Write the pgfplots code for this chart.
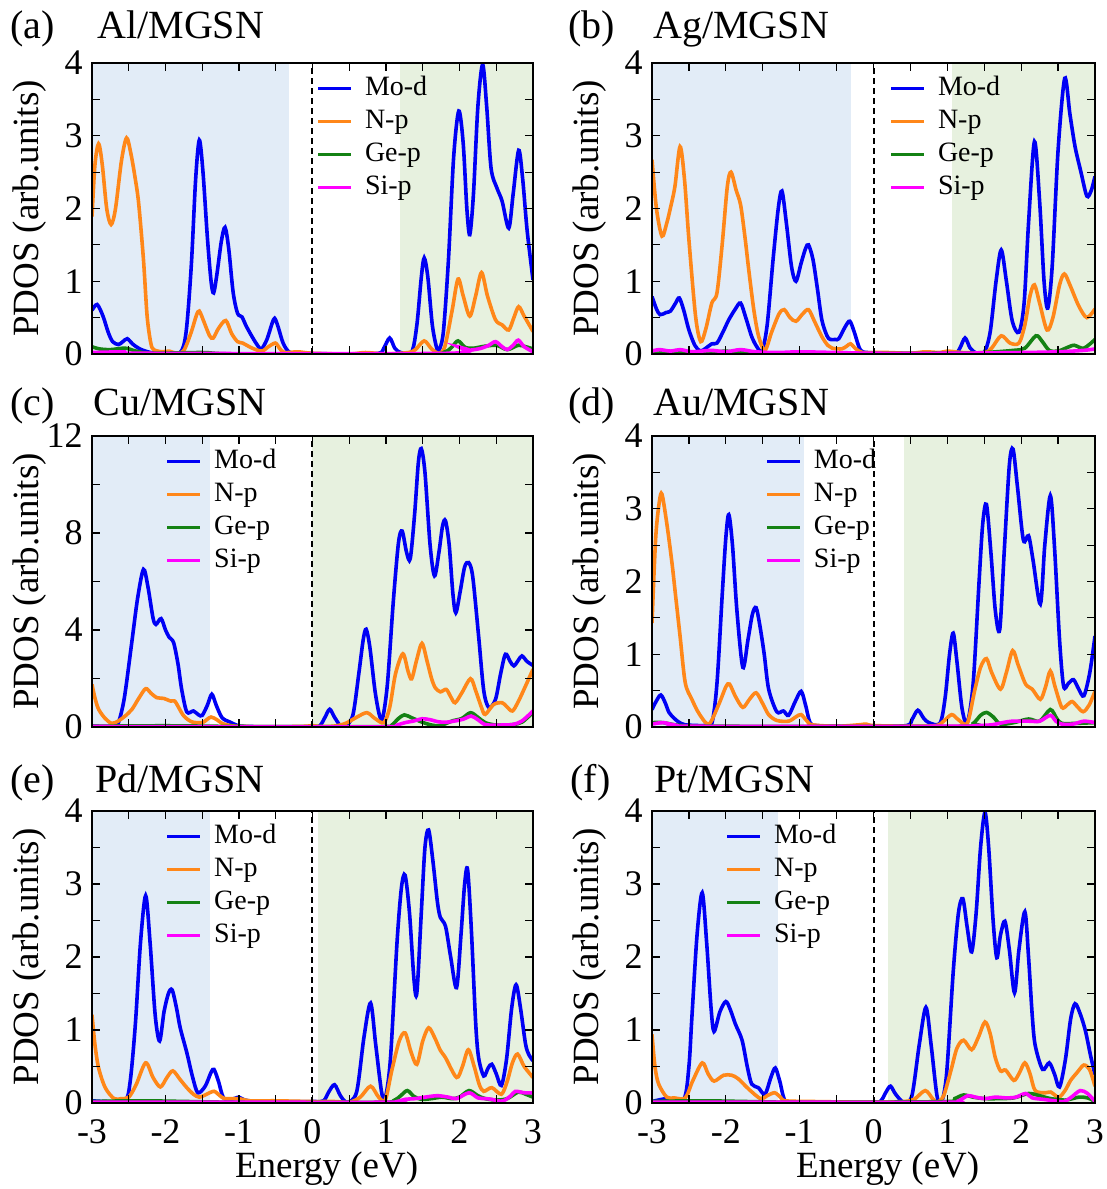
\documentclass[border=0pt]{standalone}
\usepackage{fontspec}
\setmainfont{Liberation Serif}
\usepackage{pgfplots}
\pgfplotsset{compat=1.18}

\definecolor{cMo}{RGB}{0,0,245}
\definecolor{cN}{RGB}{255,135,25}
\definecolor{cGe}{RGB}{20,130,20}
\definecolor{cSi}{RGB}{255,0,255}
\definecolor{bgB}{RGB}{226,236,247}
\definecolor{bgG}{RGB}{231,241,223}

\pgfplotsset{
  pdos/.style={
    scale only axis, width=220.5pt, height=145.5pt, anchor=south west,
    xmin=-3, xmax=3, ymin=0, ymax=4,
    xtick={-3,...,3}, xticklabels={}, minor x tick num=1,
    ytick={0,1,2,3,4}, minor y tick num=1,
    tick align=inside, major tick length=4pt, minor tick length=4pt,
    every tick/.style={black, line width=0.6pt},
    axis line style={line width=1pt},
    axis on top,
    tick label style={font=\fontsize{18}{21}\selectfont},
    xticklabel style={inner sep=0pt, yshift=-8pt},
    yticklabel style={inner sep=0pt, xshift=-4.5pt},
    /pgf/number format/assume math mode=true,
    ylabel={PDOS (arb.units)},
    every axis y label/.style={at={(rel axis cs:-0.1406,0.5)}, rotate=90, anchor=center,
      inner sep=0pt, font=\fontsize{18.5}{22}\selectfont},
    every axis x label/.style={at={(rel axis cs:0.532,-0.226)}, anchor=center,
      inner sep=0pt, font=\fontsize{18.5}{22}\selectfont},
    every axis plot/.append style={line width=1.8pt, smooth, tension=0.5},
    legend cell align=left,
    legend style={draw=none, fill=none, anchor=north west, inner sep=0pt, row sep=0pt,
      font=\fontsize{14}{16}\selectfont,
      nodes={inner sep=1.5pt, text height=10pt, text depth=3.5pt},
      /tikz/every odd column/.append style={column sep=4.5pt}},
    legend image code/.code={\draw[##1] (0pt,0pt) -- (16.5pt,0pt);},
  },
  bottomrow/.style={xticklabels={-3,-2,-1,0,1,2,3}, xlabel={Energy (eV)}},
  fermi/.style={black, line width=1pt, dash pattern=on 3pt off 2pt, forget plot, sharp plot},
}

\begin{document}
\begin{tikzpicture}
\useasboundingbox (0,0) rectangle (553.5pt,594.5pt);

% (a) Al/MGSN
\begin{axis}[pdos, at={(46pt,417.5pt)}, legend style={at={(0.508,0.97)}}]
\fill[bgB] (axis cs:-3,0) rectangle (axis cs:-0.32,4);
\fill[bgG] (axis cs:1.19,0) rectangle (axis cs:3,4);
\addplot[cMo] coordinates {(-3,0.60)(-2.93,0.68)(-2.85,0.52)(-2.78,0.3)(-2.72,0.17)(-2.64,0.13)(-2.58,0.17)(-2.52,0.21)(-2.45,0.14)(-2.35,0.07)(-2.2,0.02)(-2.0,0.01)(-1.8,0.02)(-1.72,0.3)(-1.65,1.2)(-1.59,2.4)(-1.54,2.94)(-1.49,2.5)(-1.43,1.6)(-1.38,1.0)(-1.345,0.84)(-1.3,1.1)(-1.24,1.55)(-1.19,1.74)(-1.14,1.45)(-1.08,0.85)(-1.02,0.56)(-0.96,0.51)(-0.9,0.38)(-0.8,0.2)(-0.72,0.08)(-0.69,0.07)(-0.62,0.2)(-0.55,0.42)(-0.515,0.49)(-0.47,0.38)(-0.4,0.15)(-0.32,0.03)(-0.2,0.01)(0.5,0.0)(0.9,0.01)(0.97,0.08)(1.05,0.22)(1.12,0.08)(1.2,0.02)(1.35,0.03)(1.42,0.4)(1.48,1.05)(1.52,1.32)(1.57,1.05)(1.63,0.4)(1.69,0.08)(1.72,0.05)(1.78,0.3)(1.85,1.3)(1.92,2.7)(1.99,3.34)(2.05,2.9)(2.1,2.0)(2.14,1.64)(2.19,2.2)(2.25,3.4)(2.315,3.98)(2.37,3.4)(2.43,2.55)(2.51,2.28)(2.58,2.1)(2.67,1.73)(2.73,2.2)(2.805,2.8)(2.86,2.4)(2.92,1.7)(3,1.02)};
\addplot[cN] coordinates {(-3,1.89)(-2.96,2.6)(-2.91,2.89)(-2.86,2.6)(-2.8,2.0)(-2.74,1.78)(-2.68,2.0)(-2.6,2.65)(-2.53,2.97)(-2.47,2.75)(-2.41,2.4)(-2.365,2.07)(-2.3,1.3)(-2.25,0.52)(-2.2,0.15)(-2.16,0.06)(-2.05,0.03)(-1.95,0.04)(-1.85,0.01)(-1.75,0.05)(-1.65,0.3)(-1.58,0.53)(-1.54,0.59)(-1.48,0.45)(-1.4,0.25)(-1.35,0.22)(-1.28,0.35)(-1.18,0.46)(-1.1,0.28)(-1.02,0.17)(-0.95,0.15)(-0.82,0.08)(-0.69,0.04)(-0.6,0.1)(-0.505,0.15)(-0.45,0.08)(-0.38,0.02)(-0.2,0.03)(0,0.01)(0.5,0.0)(0.72,0.02)(1.0,0.0)(1.3,0.02)(1.4,0.06)(1.52,0.18)(1.62,0.07)(1.72,0.01)(1.8,0.1)(1.9,0.6)(1.98,1.03)(2.05,0.8)(2.14,0.52)(2.22,0.8)(2.30,1.12)(2.38,0.8)(2.49,0.47)(2.58,0.4)(2.67,0.33)(2.74,0.5)(2.805,0.65)(2.88,0.52)(3,0.31)};
\addplot[cGe] coordinates {(-3,0.1)(-2.9,0.07)(-2.75,0.06)(-2.55,0.08)(-2.4,0.04)(-2.2,0.01)(-1.5,0.02)(-1.0,0.0)(1.5,0.0)(1.8,0.03)(1.9,0.1)(1.98,0.18)(2.08,0.09)(2.2,0.08)(2.3,0.1)(2.5,0.12)(2.65,0.06)(2.8,0.12)(2.9,0.1)(3,0.07)};
\addplot[cSi] coordinates {(-3,0.02)(-2.55,0.03)(-2.3,0.01)(1.85,0.01)(1.98,0.1)(2.08,0.05)(2.2,0.06)(2.3,0.08)(2.4,0.12)(2.49,0.17)(2.58,0.1)(2.65,0.06)(2.73,0.12)(2.8,0.19)(2.88,0.1)(3,0.03)};
\addplot[fermi] coordinates {(0,0)(0,4)};
\legend{Mo-d,N-p,Ge-p,Si-p}
\end{axis}

% (b) Ag/MGSN
\begin{axis}[pdos, at={(326pt,417.5pt)}, width=221.5pt, legend style={at={(0.535,0.97)}}]
\fill[bgB] (axis cs:-3,0) rectangle (axis cs:-0.30,4);
\fill[bgG] (axis cs:1.06,0) rectangle (axis cs:3,4);
\addplot[cMo] coordinates {(-3,0.79)(-2.94,0.62)(-2.89,0.54)(-2.81,0.57)(-2.75,0.59)(-2.68,0.7)(-2.63,0.77)(-2.57,0.6)(-2.5,0.33)(-2.42,0.12)(-2.345,0.04)(-2.27,0.08)(-2.19,0.14)(-2.12,0.15)(-2.04,0.3)(-1.96,0.47)(-1.87,0.62)(-1.80,0.70)(-1.73,0.5)(-1.65,0.24)(-1.58,0.1)(-1.51,0.04)(-1.44,0.4)(-1.36,1.3)(-1.29,2.0)(-1.24,2.24)(-1.18,1.8)(-1.11,1.2)(-1.05,1.0)(-0.98,1.25)(-0.92,1.45)(-0.88,1.50)(-0.82,1.3)(-0.76,0.9)(-0.70,0.47)(-0.63,0.25)(-0.585,0.2)(-0.52,0.2)(-0.47,0.21)(-0.38,0.38)(-0.32,0.45)(-0.26,0.3)(-0.18,0.06)(-0.08,0.02)(0.3,0.01)(0.8,0.01)(1.1,0.01)(1.17,0.08)(1.24,0.22)(1.31,0.08)(1.4,0.01)(1.5,0.02)(1.58,0.3)(1.66,1.0)(1.73,1.43)(1.8,1.0)(1.88,0.45)(1.97,0.30)(2.04,0.7)(2.1,1.8)(2.18,2.92)(2.25,2.1)(2.31,1.0)(2.36,0.63)(2.42,1.2)(2.5,2.8)(2.59,3.79)(2.66,3.3)(2.73,2.85)(2.81,2.5)(2.89,2.17)(2.95,2.25)(3,2.44)};
\addplot[cN] coordinates {(-3,2.67)(-2.94,2.0)(-2.865,1.62)(-2.8,1.8)(-2.75,2.01)(-2.69,2.3)(-2.62,2.85)(-2.56,2.4)(-2.5,1.57)(-2.41,0.52)(-2.34,0.17)(-2.27,0.35)(-2.19,0.70)(-2.12,0.84)(-2.05,1.5)(-1.98,2.3)(-1.93,2.50)(-1.86,2.25)(-1.80,2.05)(-1.74,1.6)(-1.69,1.16)(-1.62,0.6)(-1.555,0.24)(-1.47,0.05)(-1.38,0.3)(-1.28,0.55)(-1.21,0.61)(-1.13,0.5)(-1.05,0.45)(-0.96,0.55)(-0.88,0.61)(-0.8,0.45)(-0.7,0.24)(-0.62,0.12)(-0.56,0.08)(-0.43,0.07)(-0.36,0.11)(-0.31,0.14)(-0.24,0.07)(-0.15,0.02)(0.0,0.02)(0.2,0.02)(0.5,0.01)(0.7,0.03)(0.9,0.02)(1.0,0.04)(1.2,0.02)(1.5,0.02)(1.6,0.08)(1.73,0.25)(1.85,0.15)(1.97,0.15)(2.05,0.4)(2.12,0.8)(2.18,0.95)(2.25,0.7)(2.35,0.33)(2.43,0.5)(2.52,0.95)(2.585,1.10)(2.66,0.95)(2.78,0.66)(2.89,0.5)(3,0.62)};
\addplot[cGe] coordinates {(-3,0.01)(-2.6,0.02)(-2.2,0.02)(-2.0,0.04)(-1.8,0.02)(-1.0,0.01)(1.0,0.01)(1.5,0.02)(1.9,0.05)(2.05,0.08)(2.2,0.25)(2.28,0.18)(2.38,0.05)(2.5,0.04)(2.65,0.1)(2.72,0.12)(2.85,0.08)(3,0.2)};
\addplot[cSi] coordinates {(-3,0.04)(-2.9,0.06)(-2.75,0.04)(-2.62,0.06)(-2.45,0.03)(-2.2,0.05)(-2.0,0.03)(-1.8,0.06)(-1.6,0.03)(-1.3,0.02)(-1.0,0.03)(-0.5,0.02)(0,0.01)(1.0,0.01)(2.0,0.02)(2.5,0.03)(2.85,0.05)(3,0.07)};
\addplot[fermi] coordinates {(0,0)(0,4)};
\legend{Mo-d,N-p,Ge-p,Si-p}
\end{axis}

% (c) Cu/MGSN
\begin{axis}[pdos, at={(46pt,231pt)}, ymax=12, ytick={0,4,8,12}, legend style={at={(0.166,0.97)}}]
\fill[bgB] (axis cs:-3,0) rectangle (axis cs:-1.39,12);
\fill[bgG] (axis cs:0,0) rectangle (axis cs:3,12);
\addplot[cMo] coordinates {(-3,0.04)(-2.8,0.02)(-2.7,0.05)(-2.64,0.18)(-2.56,1.2)(-2.46,3.46)(-2.38,5.3)(-2.30,6.5)(-2.24,5.8)(-2.17,4.5)(-2.13,4.23)(-2.06,4.47)(-2.0,4.0)(-1.95,3.7)(-1.89,3.48)(-1.83,2.6)(-1.78,1.55)(-1.71,0.62)(-1.62,0.66)(-1.55,0.5)(-1.50,0.48)(-1.43,0.9)(-1.37,1.35)(-1.31,0.9)(-1.23,0.38)(-1.12,0.2)(-1.05,0.1)(-0.95,0.03)(-0.5,0.01)(0,0.02)(0.1,0.05)(0.17,0.4)(0.234,0.73)(0.3,0.4)(0.38,0.05)(0.45,0.03)(0.55,0.5)(0.63,2.2)(0.69,3.6)(0.73,4.03)(0.78,3.3)(0.85,1.5)(0.91,0.5)(0.955,0.38)(1.02,1.8)(1.1,5.2)(1.17,7.6)(1.22,8.08)(1.28,7.2)(1.33,6.94)(1.39,8.8)(1.44,10.9)(1.48,11.48)(1.53,10.5)(1.6,7.5)(1.66,6.23)(1.72,7.2)(1.77,8.3)(1.81,8.5)(1.86,7.5)(1.91,5.5)(1.95,4.71)(2.01,5.6)(2.07,6.6)(2.125,6.78)(2.18,6.2)(2.26,3.75)(2.33,1.5)(2.40,0.8)(2.49,1.14)(2.56,2.2)(2.625,3.0)(2.69,2.7)(2.74,2.52)(2.8,2.75)(2.85,2.93)(2.92,2.7)(3,2.54)};
\addplot[cN] coordinates {(-3,1.76)(-2.96,1.2)(-2.91,0.73)(-2.82,0.35)(-2.73,0.15)(-2.64,0.25)(-2.55,0.45)(-2.456,0.73)(-2.36,1.2)(-2.27,1.58)(-2.2,1.4)(-2.12,1.21)(-2.025,1.18)(-1.93,1.07)(-1.875,1.07)(-1.82,0.8)(-1.75,0.45)(-1.64,0.21)(-1.5,0.18)(-1.44,0.3)(-1.38,0.41)(-1.3,0.3)(-1.23,0.15)(-1.1,0.05)(-0.9,0.02)(-0.5,0.01)(-0.1,0.03)(0.0,0.06)(0.1,0.02)(0.3,0.04)(0.45,0.15)(0.6,0.4)(0.74,0.59)(0.85,0.35)(0.97,0.18)(1.05,0.8)(1.13,2.2)(1.23,3.02)(1.3,2.3)(1.35,1.99)(1.42,2.8)(1.49,3.45)(1.56,2.7)(1.62,2.0)(1.67,1.62)(1.74,1.45)(1.82,1.55)(1.88,1.25)(1.94,1.0)(2.03,1.4)(2.15,1.99)(2.22,1.5)(2.3,0.8)(2.35,0.52)(2.465,0.93)(2.58,1.0)(2.64,0.85)(2.72,0.66)(2.8,1.05)(2.9,1.7)(3,2.38)};
\addplot[cGe] coordinates {(-3,0.03)(-2.0,0.05)(-1.0,0.02)(0,0.01)(1.0,0.02)(1.08,0.08)(1.17,0.35)(1.25,0.5)(1.35,0.38)(1.49,0.2)(1.62,0.08)(1.72,0.05)(1.8,0.12)(1.9,0.25)(2.03,0.35)(2.15,0.59)(2.25,0.4)(2.35,0.18)(2.5,0.08)(2.72,0.1)(2.85,0.2)(3,0.6)};
\addplot[cSi] coordinates {(-3,0.02)(0,0.0)(1.05,0.01)(1.15,0.08)(1.26,0.18)(1.38,0.25)(1.49,0.34)(1.6,0.3)(1.72,0.21)(1.83,0.2)(1.94,0.25)(2.05,0.32)(2.16,0.45)(2.25,0.3)(2.35,0.1)(2.5,0.08)(2.72,0.1)(2.85,0.25)(3,0.66)};
\addplot[fermi] coordinates {(0,0)(0,12)};
\legend{Mo-d,N-p,Ge-p,Si-p}
\end{axis}

% (d) Au/MGSN
\begin{axis}[pdos, at={(326pt,231pt)}, width=221.5pt, legend style={at={(0.255,0.97)}}]
\fill[bgB] (axis cs:-3,0) rectangle (axis cs:-0.94,4);
\fill[bgG] (axis cs:0.41,0) rectangle (axis cs:3,4);
\addplot[cMo] coordinates {(-3,0.24)(-2.94,0.36)(-2.88,0.44)(-2.82,0.33)(-2.77,0.2)(-2.7,0.12)(-2.64,0.07)(-2.55,0.03)(-2.3,0.02)(-2.19,0.05)(-2.12,0.6)(-2.05,1.8)(-2.0,2.6)(-1.96,2.92)(-1.91,2.5)(-1.85,1.6)(-1.77,0.82)(-1.7,1.2)(-1.64,1.55)(-1.59,1.64)(-1.54,1.4)(-1.48,1.0)(-1.42,0.52)(-1.31,0.21)(-1.22,0.22)(-1.15,0.16)(-1.06,0.35)(-0.98,0.49)(-0.92,0.3)(-0.86,0.06)(-0.78,0.02)(-0.5,0.01)(0.0,0.01)(0.45,0.02)(0.52,0.1)(0.60,0.23)(0.68,0.12)(0.75,0.06)(0.9,0.05)(0.97,0.4)(1.03,1.0)(1.08,1.29)(1.13,0.9)(1.2,0.25)(1.27,0.06)(1.35,0.6)(1.43,2.0)(1.48,2.8)(1.53,3.06)(1.59,2.4)(1.65,1.6)(1.71,1.34)(1.77,2.4)(1.84,3.6)(1.89,3.82)(1.95,3.3)(2.03,2.57)(2.10,2.63)(2.16,2.3)(2.26,1.69)(2.32,2.5)(2.395,3.18)(2.45,2.5)(2.52,1.2)(2.575,0.56)(2.64,0.6)(2.71,0.65)(2.78,0.52)(2.85,0.43)(2.93,0.75)(3,1.25)};
\addplot[cN] coordinates {(-3,1.43)(-2.95,2.6)(-2.9,3.1)(-2.865,3.2)(-2.8,2.8)(-2.73,2.26)(-2.68,1.8)(-2.62,1.25)(-2.55,0.61)(-2.46,0.38)(-2.36,0.18)(-2.23,0.04)(-2.1,0.3)(-2.0,0.55)(-1.95,0.59)(-1.87,0.42)(-1.77,0.27)(-1.68,0.38)(-1.59,0.47)(-1.5,0.32)(-1.42,0.17)(-1.31,0.09)(-1.15,0.08)(-1.05,0.14)(-0.98,0.17)(-0.9,0.08)(-0.83,0.03)(-0.5,0.01)(-0.2,0.03)(-0.1,0.04)(0.0,0.02)(0.5,0.01)(0.85,0.02)(0.95,0.08)(1.06,0.17)(1.15,0.1)(1.27,0.05)(1.37,0.5)(1.45,0.82)(1.53,0.94)(1.6,0.75)(1.72,0.52)(1.8,0.75)(1.885,1.05)(1.96,0.85)(2.06,0.59)(2.15,0.52)(2.26,0.38)(2.33,0.55)(2.395,0.77)(2.46,0.55)(2.55,0.27)(2.62,0.3)(2.69,0.35)(2.76,0.28)(2.84,0.21)(2.92,0.3)(3,0.49)};
\addplot[cGe] coordinates {(-3,0.06)(-2.85,0.06)(-2.6,0.02)(-2.0,0.01)(1.2,0.01)(1.35,0.05)(1.45,0.16)(1.53,0.2)(1.62,0.14)(1.72,0.04)(1.9,0.06)(2.1,0.11)(2.25,0.08)(2.395,0.24)(2.48,0.12)(2.55,0.05)(2.75,0.05)(3,0.06)};
\addplot[cSi] coordinates {(-3,0.04)(-2.85,0.06)(-2.7,0.03)(-2.4,0.01)(1.0,0.01)(1.4,0.02)(1.6,0.03)(1.75,0.06)(1.88,0.08)(2.1,0.08)(2.25,0.08)(2.395,0.16)(2.47,0.08)(2.55,0.04)(2.7,0.04)(2.85,0.08)(3,0.06)};
\addplot[fermi] coordinates {(0,0)(0,4)};
\legend{Mo-d,N-p,Ge-p,Si-p}
\end{axis}

% (e) Pd/MGSN
\begin{axis}[pdos, bottomrow, at={(46pt,43pt)}, height=146pt, legend style={at={(0.166,0.97)}}]
\fill[bgB] (axis cs:-3,0) rectangle (axis cs:-1.39,4);
\fill[bgG] (axis cs:0.07,0) rectangle (axis cs:3,4);
\addplot[cMo] coordinates {(-3,0.03)(-2.8,0.02)(-2.55,0.03)(-2.48,0.3)(-2.41,1.08)(-2.34,2.2)(-2.27,2.84)(-2.21,2.2)(-2.14,1.2)(-2.08,0.85)(-2.02,1.25)(-1.96,1.5)(-1.91,1.55)(-1.85,1.3)(-1.80,1.03)(-1.71,0.69)(-1.63,0.35)(-1.56,0.14)(-1.46,0.23)(-1.38,0.42)(-1.34,0.46)(-1.28,0.3)(-1.21,0.07)(-1.1,0.05)(-1.0,0.08)(-0.92,0.04)(-0.7,0.02)(0,0.02)(0.15,0.03)(0.22,0.15)(0.30,0.25)(0.38,0.1)(0.47,0.01)(0.6,0.15)(0.7,0.9)(0.79,1.37)(0.86,0.8)(0.94,0.15)(0.99,0.07)(1.06,0.6)(1.15,2.2)(1.21,2.95)(1.26,3.12)(1.32,2.6)(1.38,1.7)(1.42,1.51)(1.48,2.6)(1.53,3.5)(1.58,3.74)(1.64,3.3)(1.70,2.75)(1.74,2.54)(1.81,2.42)(1.88,2.0)(1.96,1.58)(2.02,2.3)(2.07,3.0)(2.11,3.2)(2.16,2.4)(2.22,1.1)(2.26,0.62)(2.33,0.37)(2.39,0.48)(2.44,0.53)(2.5,0.4)(2.57,0.24)(2.64,0.6)(2.71,1.3)(2.77,1.62)(2.83,1.3)(2.90,0.8)(2.95,0.65)(3,0.58)};
\addplot[cN] coordinates {(-3,1.21)(-2.96,0.8)(-2.91,0.48)(-2.82,0.21)(-2.7,0.06)(-2.6,0.06)(-2.5,0.08)(-2.4,0.25)(-2.27,0.55)(-2.17,0.35)(-2.07,0.22)(-1.98,0.35)(-1.90,0.44)(-1.8,0.32)(-1.71,0.21)(-1.62,0.12)(-1.54,0.08)(-1.44,0.12)(-1.34,0.16)(-1.26,0.1)(-1.19,0.06)(-1.0,0.06)(-0.85,0.03)(-0.5,0.03)(0,0.02)(0.3,0.02)(0.5,0.01)(0.65,0.08)(0.79,0.23)(0.9,0.08)(0.99,0.04)(1.08,0.45)(1.18,0.85)(1.26,0.96)(1.34,0.7)(1.42,0.53)(1.5,0.85)(1.58,1.03)(1.66,0.9)(1.74,0.72)(1.81,0.62)(1.96,0.35)(2.04,0.5)(2.12,0.73)(2.2,0.5)(2.27,0.25)(2.33,0.16)(2.44,0.21)(2.57,0.12)(2.65,0.3)(2.72,0.55)(2.79,0.67)(2.88,0.5)(3,0.35)};
\addplot[cGe] coordinates {(-3,0.02)(-2.3,0.03)(-1.0,0.01)(0.9,0.01)(1.1,0.03)(1.2,0.1)(1.29,0.17)(1.38,0.09)(1.48,0.05)(1.62,0.06)(1.76,0.08)(1.9,0.06)(2.0,0.08)(2.13,0.17)(2.25,0.1)(2.35,0.06)(2.5,0.04)(2.65,0.06)(2.8,0.15)(2.9,0.12)(3,0.08)};
\addplot[cSi] coordinates {(-3,0.01)(-1.0,0.01)(1.0,0.01)(1.15,0.02)(1.26,0.05)(1.4,0.06)(1.53,0.08)(1.7,0.1)(1.85,0.08)(1.96,0.06)(2.13,0.14)(2.25,0.07)(2.36,0.06)(2.44,0.05)(2.52,0.03)(2.6,0.03)(2.7,0.1)(2.76,0.16)(2.88,0.14)(3,0.14)};
\addplot[fermi] coordinates {(0,0)(0,4)};
\legend{Mo-d,N-p,Ge-p,Si-p}
\end{axis}

% (f) Pt/MGSN
\begin{axis}[pdos, bottomrow, at={(326pt,43pt)}, width=221.5pt, height=146pt, legend style={at={(0.165,0.97)}}]
\fill[bgB] (axis cs:-3,0) rectangle (axis cs:-1.29,4);
\fill[bgG] (axis cs:0.20,0) rectangle (axis cs:3,4);
\addplot[cMo] coordinates {(-3,0.02)(-2.8,0.06)(-2.57,0.05)(-2.5,0.5)(-2.46,1.17)(-2.39,2.3)(-2.32,2.88)(-2.26,2.2)(-2.2,1.3)(-2.16,0.98)(-2.08,1.25)(-2.0,1.39)(-1.94,1.28)(-1.87,1.08)(-1.78,0.86)(-1.71,0.5)(-1.65,0.26)(-1.56,0.21)(-1.47,0.12)(-1.39,0.35)(-1.33,0.48)(-1.27,0.3)(-1.19,0.02)(-1.0,0.01)(0,0.01)(0.1,0.03)(0.17,0.15)(0.23,0.23)(0.3,0.12)(0.41,0.01)(0.52,0.1)(0.62,0.8)(0.71,1.31)(0.78,0.8)(0.86,0.1)(0.92,0.01)(0.99,0.4)(1.08,1.8)(1.15,2.6)(1.21,2.80)(1.27,2.4)(1.33,2.07)(1.39,2.6)(1.45,3.5)(1.51,3.98)(1.56,3.5)(1.62,2.5)(1.67,1.99)(1.72,2.3)(1.78,2.49)(1.84,2.1)(1.91,1.51)(1.97,2.1)(2.05,2.62)(2.1,2.0)(2.15,1.2)(2.19,0.79)(2.29,0.46)(2.38,0.55)(2.45,0.4)(2.52,0.22)(2.6,0.6)(2.67,1.15)(2.73,1.36)(2.8,1.22)(2.87,0.99)(2.94,0.65)(3,0.39)};
\addplot[cN] coordinates {(-3,0.94)(-2.96,0.5)(-2.91,0.26)(-2.8,0.08)(-2.7,0.07)(-2.55,0.07)(-2.45,0.3)(-2.32,0.55)(-2.24,0.4)(-2.16,0.30)(-2.03,0.38)(-1.92,0.38)(-1.83,0.33)(-1.69,0.19)(-1.53,0.06)(-1.44,0.1)(-1.34,0.14)(-1.26,0.08)(-1.19,0.03)(-0.8,0.02)(0,0.01)(0.4,0.02)(0.55,0.05)(0.7,0.17)(0.8,0.06)(0.86,0.01)(0.95,0.1)(1.05,0.45)(1.13,0.75)(1.22,0.86)(1.33,0.73)(1.42,0.9)(1.51,1.11)(1.58,0.95)(1.65,0.62)(1.72,0.44)(1.79,0.45)(1.9,0.31)(1.97,0.4)(2.05,0.55)(2.12,0.4)(2.19,0.17)(2.33,0.14)(2.4,0.15)(2.51,0.08)(2.6,0.18)(2.67,0.31)(2.76,0.42)(2.85,0.52)(2.93,0.45)(3,0.23)};
\addplot[cGe] coordinates {(-3,0.02)(-2.3,0.03)(-1.0,0.01)(1.0,0.02)(1.1,0.06)(1.22,0.11)(1.35,0.08)(1.51,0.06)(1.7,0.06)(1.9,0.07)(2.1,0.13)(2.25,0.1)(2.4,0.06)(2.6,0.04)(2.78,0.08)(2.9,0.07)(3,0.02)};
\addplot[cSi] coordinates {(-3,0.01)(-1.0,0.01)(1.0,0.01)(1.15,0.03)(1.28,0.1)(1.38,0.08)(1.51,0.06)(1.65,0.08)(1.8,0.07)(1.93,0.08)(2.06,0.13)(2.15,0.07)(2.3,0.05)(2.45,0.03)(2.58,0.02)(2.68,0.08)(2.8,0.17)(2.9,0.13)(3,0.02)};
\addplot[fermi] coordinates {(0,0)(0,4)};
\legend{Mo-d,N-p,Ge-p,Si-p}
\end{axis}

% panel titles
\begin{scope}[every node/.style={anchor=base west, inner sep=0pt, font=\fontsize{20}{24}\selectfont}]
\node at (5pt,575pt) {(a)};   \node at (48.5pt,575pt) {Al/MGSN};
\node at (284pt,575pt) {(b)}; \node at (326.5pt,575pt) {Ag/MGSN};
\node at (5pt,386.5pt) {(c)};   \node at (46.5pt,386.5pt) {Cu/MGSN};
\node at (284pt,386.5pt) {(d)}; \node at (326.5pt,386.5pt) {Au/MGSN};
\node at (5pt,198pt) {(e)};   \node at (47.5pt,198pt) {Pd/MGSN};
\node at (285pt,198pt) {(f)}; \node at (327pt,198pt) {Pt/MGSN};
\end{scope}
\end{tikzpicture}
\end{document}
